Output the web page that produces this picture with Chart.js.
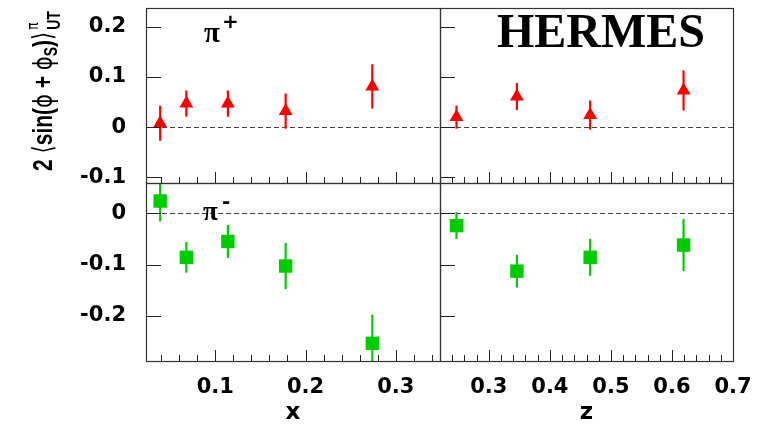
<!DOCTYPE html>
<html>
<head>
<meta charset="utf-8">
<script src="https://cdn.jsdelivr.net/npm/chart.js@4"></script>
<style>
body{margin:0;background:#fff}
#wrap{position:relative;width:761px;height:425px}
canvas{position:absolute;left:0;top:0}
</style>
</head>
<body>
<div id="wrap">
<canvas id="tl" width="761" height="425"></canvas>
<canvas id="tr" width="761" height="425"></canvas>
<canvas id="bl" width="761" height="425"></canvas>
<canvas id="br" width="761" height="425"></canvas>
</div>
<script>
// bins
const xBins = [0.039, 0.068, 0.114, 0.178, 0.274];
const zBins = [0.247, 0.346, 0.466, 0.619];

// pi+ asymmetries
const piPlusX    = [0.008, 0.047, 0.047, 0.032, 0.081];
const piPlusXErr = [0.035, 0.026, 0.026, 0.035, 0.044];
const piPlusZ    = [0.020, 0.061, 0.024, 0.073];
const piPlusZErr = [0.023, 0.027, 0.029, 0.040];

// pi- asymmetries
const piMinusX    = [0.024, -0.086, -0.055, -0.103, -0.254];
const piMinusXErr = [0.040, 0.030, 0.032, 0.045, 0.056];
const piMinusZ    = [-0.024, -0.113, -0.086, -0.062];
const piMinusZErr = [0.026, 0.032, 0.036, 0.051];

// tick labels
const xTickVals = [0.1, 0.2, 0.3];
const zTickVals = [0.3, 0.4, 0.5, 0.6, 0.7];
const yTopTicks = [-0.1, 0, 0.1, 0.2];
const yBotTicks = [-0.2, -0.1, 0];

const RED = '#ff0000', GREEN = '#00cc00';
const tickFont = {family:'"DejaVu Sans", sans-serif', size:21, weight:'bold'};
const labels = {};   // extra text per canvas, kept out of chart options

// frame, inside ticks, zero line, error bars
const hepPlugin = {
  id:'hep',
  beforeDatasetsDraw(chart){
    const {ctx, chartArea:a, scales:{x, y}} = chart;
    const ds = chart.data.datasets[0];
    ctx.save();
    ctx.beginPath(); ctx.rect(a.left, a.top, a.right-a.left, a.bottom-a.top); ctx.clip();
    const y0 = Math.round(y.getPixelForValue(0)) + 0.5;
    ctx.strokeStyle = '#444'; ctx.lineWidth = 1; ctx.setLineDash([5,3]);
    ctx.beginPath(); ctx.moveTo(a.left, y0); ctx.lineTo(a.right, y0); ctx.stroke();
    ctx.setLineDash([]);
    ctx.strokeStyle = ds.backgroundColor; ctx.lineWidth = 2.2;
    ds.data.forEach((p, i) => {
      const px = x.getPixelForValue(p.x);
      ctx.beginPath();
      ctx.moveTo(px, y.getPixelForValue(p.y - ds.errors[i]));
      ctx.lineTo(px, y.getPixelForValue(p.y + ds.errors[i]));
      ctx.stroke();
    });
    ctx.restore();
  },
  afterDraw(chart){
    const {ctx, chartArea:a, scales:{x, y}} = chart;
    ctx.save();
    ctx.strokeStyle = '#222'; ctx.lineWidth = 1;
    // x ticks up from the bottom edge
    for (let k = Math.ceil(x.min/0.02); k*0.02 <= x.max + 1e-9; k++) {
      const px = Math.round(x.getPixelForValue(k*0.02)) + 0.5;
      const len = k % 5 === 0 ? 11 : 6;
      ctx.beginPath(); ctx.moveTo(px, a.bottom); ctx.lineTo(px, a.bottom - len); ctx.stroke();
    }
    // y ticks right from the left edge
    for (let k = Math.ceil(y.min/0.1 - 1e-9); k*0.1 <= y.max; k++) {
      const py = Math.round(y.getPixelForValue(k*0.1)) + 0.5;
      ctx.beginPath(); ctx.moveTo(a.left, py); ctx.lineTo(a.left + 15, py); ctx.stroke();
    }
    ctx.strokeStyle = '#333'; ctx.lineWidth = 1.2;
    ctx.strokeRect(a.left + 0.5, a.top + 0.5, a.right - a.left, a.bottom - a.top);
    ctx.restore();
    const fn = labels[chart.canvas.id];
    if (fn) fn(ctx);
  }
};

function fixSize(size){
  return s => {
    if (s.isHorizontal()) s.height = size; else s.width = size;
    s.paddingTop = s.paddingBottom = s.paddingLeft = s.paddingRight = 0;
  };
}

function panel(id, cfg){
  const xScale = {
    type:'linear', min:cfg.xMin, max:cfg.xMax,
    display:!!cfg.xTitle,
    grid:{display:false, drawTicks:false}, border:{display:false},
    afterBuildTicks: s => { s.ticks = cfg.xTicks.map(v => ({value:v})); },
    afterFit: fixSize(cfg.xTitle ? 64 : 0),
    ticks:{font:tickFont, color:'#000', padding:14, maxRotation:0, autoSkip:false,
      callback: v => String(v)},
    title:{display:!!cfg.xTitle, text:cfg.xTitle || '', color:'#000',
      font:{family:'"DejaVu Sans", sans-serif', size:23, weight:'bold', lineHeight:1},
      padding:{top:0, bottom:0}}
  };
  const yScale = {
    type:'linear', min:cfg.yMin, max:cfg.yMax,
    display:cfg.showY,
    grid:{display:false, drawTicks:false}, border:{display:false},
    afterBuildTicks: s => { s.ticks = cfg.yTicks.map(v => ({value:v})); },
    afterFit: fixSize(cfg.showY ? 146 : 0),
    ticks:{font:tickFont, color:'#000', padding:20, autoSkip:false,
      callback: v => v === 0 ? '0' : String(v)}
  };
  return new Chart(document.getElementById(id), {
    type:'scatter',
    data:{datasets:[{
      data: cfg.xs.map((v, i) => ({x:v, y:cfg.ys[i]})),
      errors: cfg.errs,
      pointStyle: cfg.shape, pointRadius: cfg.radius,
      backgroundColor: cfg.color, borderColor: cfg.color, borderWidth: 0
    }]},
    options:{
      responsive:false, animation:false, devicePixelRatio:1,
      layout:{padding:cfg.pad},
      scales:{x:xScale, y:yScale},
      plugins:{legend:{display:false}, tooltip:{enabled:false}}
    },
    plugins:[hepPlugin]
  });
}

function yTitle(ctx){
  ctx.save();
  ctx.translate(52, 171);
  ctx.rotate(-Math.PI/2);
  ctx.scale(1, 1.3);
  ctx.fillStyle = '#000';
  ctx.textBaseline = 'alphabetic';
  const big = 'bold 21px "Liberation Sans", "DejaVu Sans", sans-serif';
  const small = 'bold 14px "Liberation Sans", "DejaVu Sans", sans-serif';
  const sym = '21px "DejaVu Sans", sans-serif';
  let x = 0;
  const put = (t, f, dy) => { ctx.font = f; ctx.fillText(t, x, dy); x += ctx.measureText(t).width; };
  put('2 ', big, 0);
  put('\u27E8', sym, 0);
  put('sin(', big, 0);
  put('\u03D5', sym, 0);
  put(' + ', big, 0);
  put('\u03D5', sym, 0);
  put('S', small, 4);
  put(')', big, 0);
  put('\u27E9', sym, 0);
  const x0 = x + 2;
  x = x0; put('\u03C0', '12px "DejaVu Sans", sans-serif', -11);
  x = x0; put('UT', small, 6);
  ctx.restore();
}

labels.tl = ctx => {
  ctx.save(); ctx.fillStyle = '#000';
  ctx.font = 'bold 29px "Liberation Serif", serif'; ctx.fillText('\u03C0', 204, 42);
  ctx.font = 'bold 20px "DejaVu Sans", sans-serif'; ctx.fillText('+', 222, 28);
  ctx.restore();
  yTitle(ctx);
};
labels.tr = ctx => {
  ctx.save(); ctx.fillStyle = '#000';
  ctx.font = 'bold 48px "Liberation Serif", "Times New Roman", serif';
  ctx.fillText('HERMES', 497, 47);
  ctx.restore();
};
labels.bl = ctx => {
  ctx.save(); ctx.fillStyle = '#000';
  ctx.font = 'bold 27px "Liberation Serif", serif'; ctx.fillText('\u03C0', 203, 220);
  ctx.font = 'bold 20px "DejaVu Sans", sans-serif'; ctx.fillText('-', 222, 208);
  ctx.restore();
};

panel('tl', {
  xs:xBins, ys:piPlusX, errs:piPlusXErr, color:RED, shape:'triangle', radius:8,
  xMin:0.0233, xMax:0.349, yMin:-0.111, yMax:0.237,
  xTicks:xTickVals, yTicks:yTopTicks, showY:true,
  pad:{left:0, top:5, right:321, bottom:242}
});

panel('tr', {
  xs:zBins, ys:piPlusZ, errs:piPlusZErr, color:RED, shape:'triangle', radius:8,
  xMin:0.22, xMax:0.70, yMin:-0.111, yMax:0.237,
  xTicks:zTickVals, yTicks:yTopTicks, showY:false,
  pad:{left:440, top:5, right:28, bottom:242}
});

panel('bl', {
  xs:xBins, ys:piMinusX, errs:piMinusXErr, color:GREEN, shape:'rect', radius:9.5,
  xMin:0.0233, xMax:0.349, yMin:-0.2885, yMax:0.0592,
  xTicks:xTickVals, yTicks:yBotTicks, showY:true, xTitle:'x',
  pad:{left:0, top:183, right:321, bottom:0}
});

panel('br', {
  xs:zBins, ys:piMinusZ, errs:piMinusZErr, color:GREEN, shape:'rect', radius:9.5,
  xMin:0.22, xMax:0.70, yMin:-0.2885, yMax:0.0592,
  xTicks:zTickVals, yTicks:yBotTicks, showY:false, xTitle:'z',
  pad:{left:440, top:183, right:28, bottom:0}
});
</script>
</body>
</html>
